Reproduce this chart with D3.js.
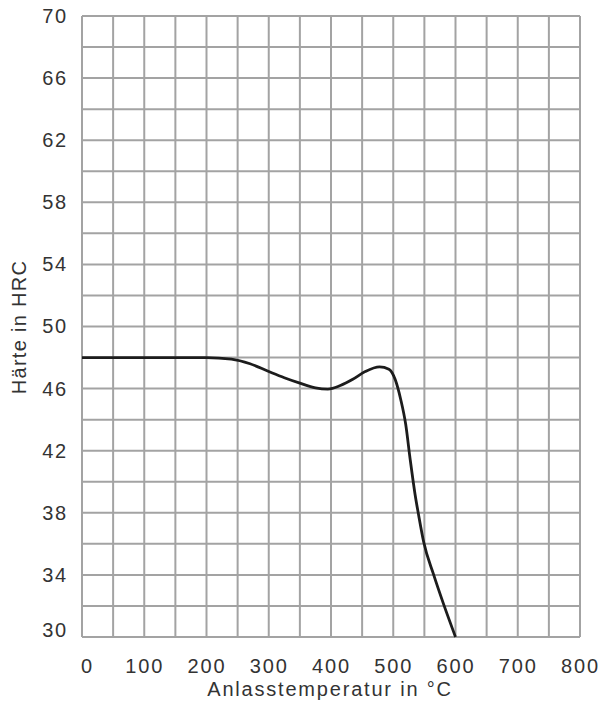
<!DOCTYPE html>
<html>
<head>
<meta charset="utf-8">
<script src="https://cdn.jsdelivr.net/npm/d3@7"></script>
<style>
  body { margin: 0; background: #fff; }
  svg text { font-family: "Liberation Sans", Arial, sans-serif; fill: #333; }
</style>
</head>
<body>
<div id="chart"></div>
<script>
// Anlasskurve: Temperatur (°C) und Härte (HRC)
var temps = [0, 100, 200, 240, 270, 300, 325, 350, 375, 395, 415, 435, 455, 478, 493, 503, 512, 520, 527, 535, 541, 549, 565, 581, 600];
var hardness = [48, 48, 48, 47.9, 47.6, 47.1, 46.7, 46.35, 46.05, 45.97, 46.2, 46.6, 47.1, 47.4, 47.25, 46.6, 45.3, 43.7, 41.5, 39.2, 37.8, 36.1, 34.0, 32.1, 30];

var xTicks = [0, 100, 200, 300, 400, 500, 600, 700, 800];
var yTicks = [30, 34, 38, 42, 46, 50, 54, 58, 62, 66, 70];

var margin = {top: 16, right: 25, bottom: 72, left: 82},
    width = 605 - margin.left - margin.right,
    height = 709 - margin.top - margin.bottom;

var svg = d3.select('#chart').append('svg')
    .attr('width', 605)
    .attr('height', 709);

var g = svg.append('g')
    .attr('transform', 'translate(' + margin.left + ',' + margin.top + ')');

var x = d3.scaleLinear().domain([0, 800]).range([0, width]);
var y = d3.scaleLinear().domain([30, 70]).range([height, 0]);

// Raster alle 50 °C und alle 2 HRC
g.selectAll('.vgrid')
    .data(d3.range(0, 801, 50))
    .enter().append('line')
    .attr('x1', function (d) { return x(d); })
    .attr('x2', function (d) { return x(d); })
    .attr('y1', 0)
    .attr('y2', height)
    .attr('stroke', '#a3a3a3')
    .attr('stroke-width', 2);

g.selectAll('.hgrid')
    .data(d3.range(30, 71, 2))
    .enter().append('line')
    .attr('x1', 0)
    .attr('x2', width)
    .attr('y1', function (d) { return y(d); })
    .attr('y2', function (d) { return y(d); })
    .attr('stroke', '#a3a3a3')
    .attr('stroke-width', 2);

var xAxis = g.append('g')
    .attr('transform', 'translate(0,' + height + ')')
    .call(d3.axisBottom(x).tickValues(xTicks).tickSize(0).tickPadding(22));
xAxis.select('.domain').remove();

var yAxis = g.append('g')
    .call(d3.axisLeft(y).tickValues(yTicks).tickSize(0).tickPadding(14));
yAxis.select('.domain').remove();

svg.selectAll('.tick text')
    .attr('font-size', 20)
    .attr('letter-spacing', 1.8)
    .attr('fill', '#333');

// wie im Original: 0 leicht nach rechts, 30 leicht nach oben
xAxis.selectAll('.tick text').filter(function (d) { return d === 0; }).attr('dx', 5);
yAxis.selectAll('.tick text').filter(function (d) { return d === 30; }).attr('dy', '-0.05em');

var line = d3.line()
    .x(function (d, i) { return x(temps[i]); })
    .y(function (d) { return y(d); })
    .curve(d3.curveMonotoneX);

g.append('path')
    .datum(hardness)
    .attr('d', line)
    .attr('fill', 'none')
    .attr('stroke', '#1c1c1c')
    .attr('stroke-width', 2.8);

svg.append('text')
    .attr('x', 330)
    .attr('y', 696)
    .attr('text-anchor', 'middle')
    .attr('font-size', 20)
    .attr('letter-spacing', 1.8)
    .text('Anlasstemperatur in °C');

svg.append('text')
    .attr('transform', 'translate(26,327) rotate(-90)')
    .attr('text-anchor', 'middle')
    .attr('font-size', 20)
    .attr('letter-spacing', 1.3)
    .text('Härte in HRC');
</script>
</body>
</html>
